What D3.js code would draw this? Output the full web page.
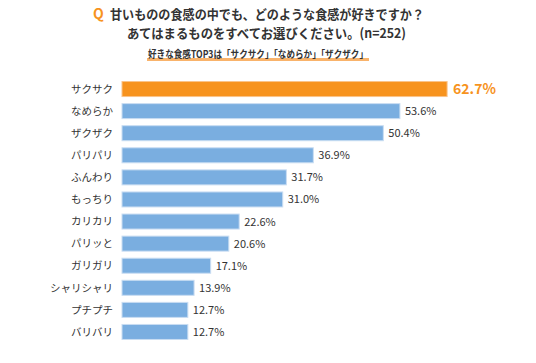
<!DOCTYPE html>
<html><head><meta charset="utf-8">
<script src="https://cdn.jsdelivr.net/npm/d3@7"></script>
<style>
body{margin:0;background:#fff;}
svg{display:block;font-family:"Noto Sans CJK JP","Noto Sans",sans-serif;}
</style></head><body>
<script>
const categories = ["サクサク","なめらか","ザクザク","パリパリ","ふんわり","もっちり","カリカリ","パリッと","ガリガリ","シャリシャリ","プチプチ","バリバリ"];
const values = [62.7,53.6,50.4,36.9,31.7,31.0,22.6,20.6,17.1,13.9,12.7,12.7];
const titleLine1 = "甘いものの食感の中でも、どのような食感が好きですか？";
const titleLine2 = "あてはまるものをすべてお選びください。(n=252)";
const subtitle = "好きな食感TOP3は「サクサク」「なめらか」「ザクザク」";

const W=536,H=363;
const svg=d3.select("body").append("svg").attr("width",W).attr("height",H);
const x=d3.scaleLinear().domain([0,100]).range([122,122+518.5]);
const y=d3.scaleBand().domain(categories).range([78,343]).paddingInner(0.32).paddingOuter(0.16);

// title
svg.append("text").attr("x",93).attr("y",19).attr("fill","#F7931E").attr("font-size",14).attr("font-weight","bold").text("Q");
svg.append("text").attr("x",110).attr("y",19).attr("fill","#333").attr("font-size",13).attr("font-weight","bold")
 .attr("textLength",314).attr("lengthAdjust","spacingAndGlyphs").text(titleLine1);
svg.append("text").attr("x",127).attr("y",38).attr("fill","#333").attr("font-size",13).attr("font-weight","bold")
 .attr("textLength",279).attr("lengthAdjust","spacingAndGlyphs").text(titleLine2);
// subtitle highlight
svg.append("rect").attr("x",147).attr("y",58).attr("width",222).attr("height",3).attr("fill","#F9B36B");
svg.append("text").attr("x",148).attr("y",58).attr("fill","#333").attr("font-size",10).attr("font-weight","bold")
 .attr("textLength",220).attr("lengthAdjust","spacingAndGlyphs").text(subtitle);

const g=svg.append("g");
g.selectAll("rect.bar").data(categories).join("rect").attr("class","bar")
 .attr("x",x(0)).attr("y",d=>y(d)).attr("height",y.bandwidth())
 .attr("width",(d,i)=>x(values[i])-x(0))
 .attr("fill",(d,i)=>i===0?"#F7931E":"#7AAEE0")
 .attr("stroke",(d,i)=>i===0?"#FAC48A":"#C9DDF2").attr("stroke-width",1);

g.selectAll("text.cat").data(categories).join("text").attr("class","cat")
 .attr("x",113).attr("y",d=>y(d)+y.bandwidth()/2).attr("dy","0.36em")
 .attr("text-anchor","end").attr("font-size",10.5).attr("fill","#333").text(d=>d);

g.selectAll("text.val").data(categories).join("text").attr("class","val")
 .attr("x",(d,i)=>x(values[i])+(i===0?6:5)).attr("y",d=>y(d)+y.bandwidth()/2).attr("dy","0.36em")
 .attr("font-size",(d,i)=>i===0?14:11).attr("font-weight",(d,i)=>i===0?"bold":"normal")
 .attr("fill",(d,i)=>i===0?"#F7931E":"#333")
 .text((d,i)=>values[i].toFixed(1)+"%");
</script>
</body></html>
